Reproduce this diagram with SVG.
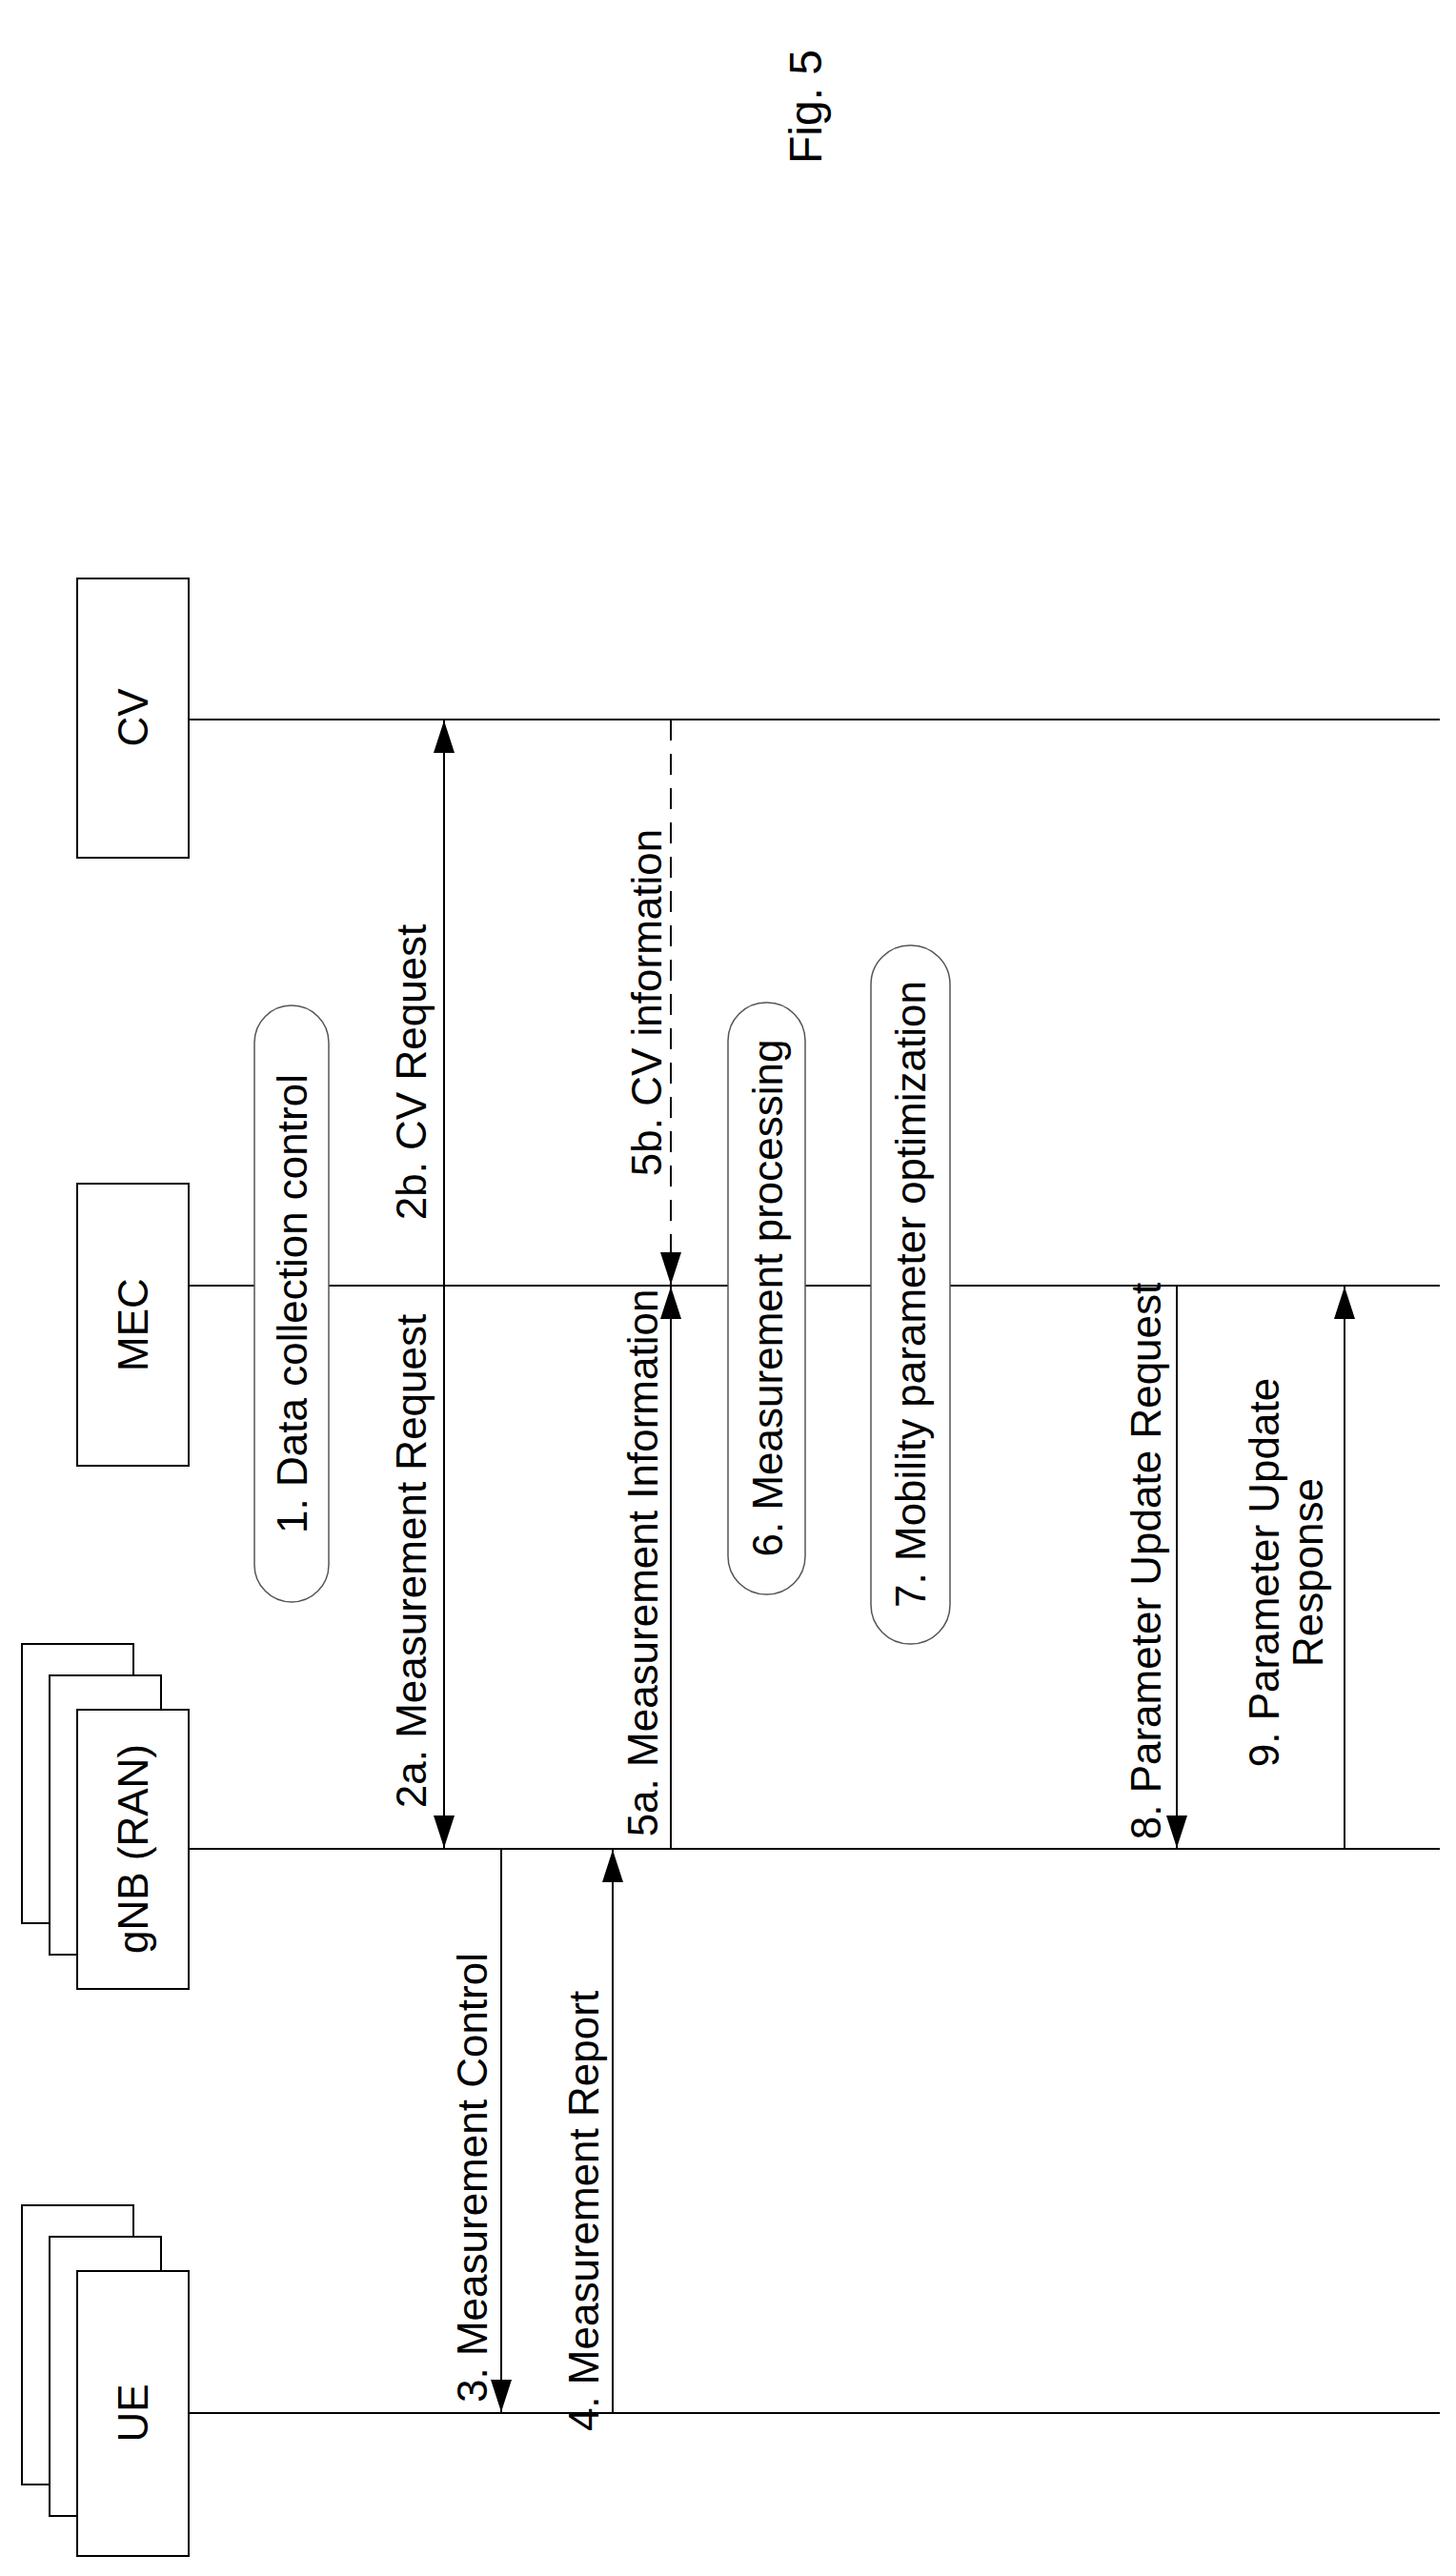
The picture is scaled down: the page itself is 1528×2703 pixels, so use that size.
<svg xmlns="http://www.w3.org/2000/svg" width="1528" height="2703" viewBox="0 0 1528 2703">
<style>
text{font-family:"Liberation Sans",Arial,sans-serif;font-size:44px;fill:#000;text-anchor:middle;dominant-baseline:central}
.box{fill:#fff;stroke:#000;stroke-width:2}
.life{stroke:#000;stroke-width:2}
.msg{stroke:#000;stroke-width:2;fill:none}
.pill{fill:#fff;stroke:#555;stroke-width:1.5}
</style>
<defs>
<marker id="ah" viewBox="0 0 10 10" refX="10" refY="5" markerWidth="34" markerHeight="22" markerUnits="userSpaceOnUse" orient="auto" preserveAspectRatio="none"><path d="M0,0 L10,5 L0,10 z" fill="#000"/></marker>
</defs>
<text transform="translate(845,112) rotate(-90)" style="font-size:48px">Fig. 5</text>
<g id="lifelines">
<line class="life" x1="198" y1="755" x2="1511" y2="755"/>
<line class="life" x1="198" y1="1349" x2="1511" y2="1349"/>
<line class="life" x1="198" y1="1940" x2="1511" y2="1940"/>
<line class="life" x1="198" y1="2532" x2="1511" y2="2532"/>
</g>
<g id="CV"><rect class="box" x="81" y="607" width="117" height="293"/><text transform="translate(139,753) rotate(-90)">CV</text></g>
<g id="MEC"><rect class="box" x="81" y="1242" width="117" height="296"/><text transform="translate(139,1390) rotate(-90)">MEC</text></g>
<g id="gNB">
<rect class="box" x="23" y="1725" width="117" height="293"/>
<rect class="box" x="52" y="1758" width="117" height="293"/>
<rect class="box" x="81" y="1794" width="117" height="293"/>
<text transform="translate(139,1940) rotate(-90)">gNB (RAN)</text></g>
<g id="UE">
<rect class="box" x="23" y="2314" width="117" height="293"/>
<rect class="box" x="52" y="2347" width="117" height="293"/>
<rect class="box" x="81" y="2383" width="117" height="299"/>
<text transform="translate(139,2532) rotate(-90)">UE</text></g>
<g id="step1"><rect class="pill" x="267" y="1055" width="78" height="626" rx="39"/><text transform="translate(306,1368) rotate(-90)">1. Data collection control</text></g>
<g id="step6"><rect class="pill" x="764" y="1052" width="81" height="621" rx="40"/><text transform="translate(805,1362) rotate(-90)">6. Measurement processing</text></g>
<g id="step7"><rect class="pill" x="914" y="992" width="83" height="733" rx="41"/><text transform="translate(955,1358) rotate(-90)">7. Mobility parameter optimization</text></g>
<g id="connectors">
<line class="msg" x1="466" y1="1349" x2="466" y2="756" marker-end="url(#ah)"/>
<line class="msg" x1="466" y1="1349" x2="466" y2="1939" marker-end="url(#ah)"/>
<line class="msg" x1="526" y1="1940" x2="526" y2="2531" marker-end="url(#ah)"/>
<line class="msg" x1="643" y1="2532" x2="643" y2="1941" marker-end="url(#ah)"/>
<line class="msg" x1="704" y1="1940" x2="704" y2="1350" marker-end="url(#ah)"/>
<line class="msg" x1="704" y1="755" x2="704" y2="1348" stroke-dasharray="22,14" marker-end="url(#ah)"/>
<line class="msg" x1="1235" y1="1349" x2="1235" y2="1939" marker-end="url(#ah)"/>
<line class="msg" x1="1411" y1="1940" x2="1411" y2="1350" marker-end="url(#ah)"/>
</g>
<g id="labels">
<text transform="translate(431,1638) rotate(-90)">2a. Measurement Request</text>
<text transform="translate(431,1125) rotate(-90)">2b. CV Request</text>
<text transform="translate(495,2285) rotate(-90)">3. Measurement Control</text>
<text transform="translate(612,2320) rotate(-90)">4. Measurement Report</text>
<text transform="translate(674,1640) rotate(-90)">5a. Measurement Information</text>
<text transform="translate(678,1052) rotate(-90)">5b. CV information</text>
<text transform="translate(1202,1638) rotate(-90)">8. Parameter Update Request</text>
<text transform="translate(1326,1650) rotate(-90)">9. Parameter Update</text>
<text transform="translate(1372,1650) rotate(-90)">Response</text>
</g>
</svg>
